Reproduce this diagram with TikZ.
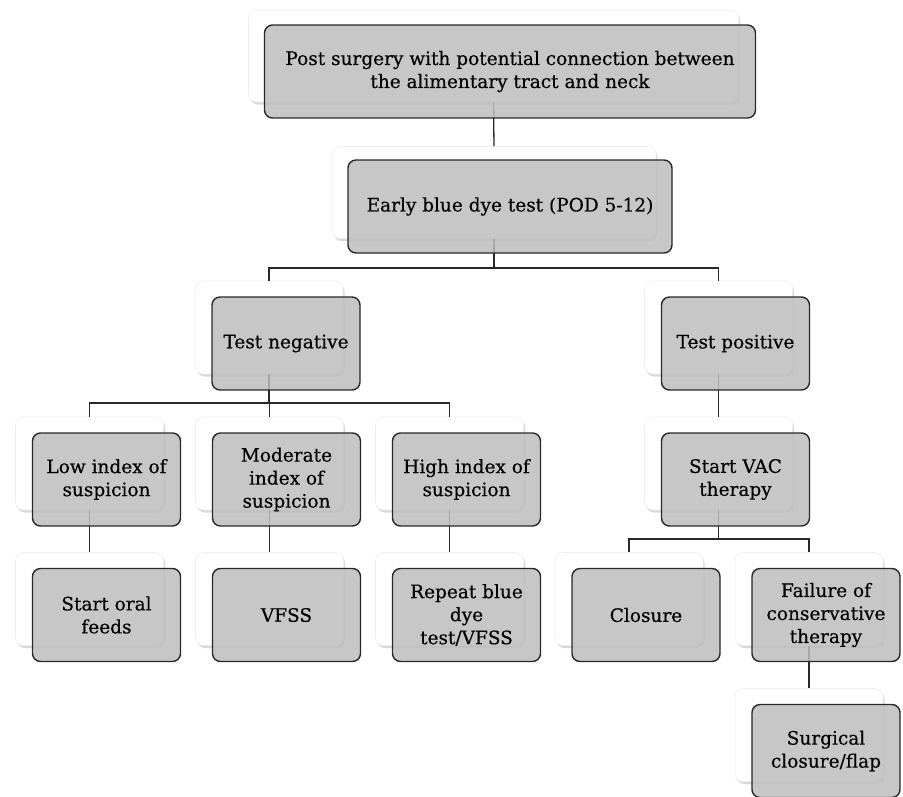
\documentclass[tikz,border=0pt]{standalone}
\usepackage{fontspec}
\setmainfont{DejaVu Serif}
\newfontfamily\boxfont{DejaVu Serif}[FakeBold=0.35]
\usetikzlibrary{shadows,calc}
\definecolor{boxgray}{RGB}{190,190,190}
\definecolor{edgecol}{RGB}{40,40,40}
\definecolor{backedge}{RGB}{238,238,238}
\tikzset{
  backbox/.style={draw=backedge, line width=0.6pt, fill=white, rounded corners=8pt,
    drop shadow={shadow xshift=1.5pt, shadow yshift=-2.5pt, opacity=0.3},
    minimum width=148pt, minimum height=93pt, inner sep=0pt},
  frontbox/.style={draw=edgecol, line width=1.4pt, fill=boxgray, fill opacity=0.85, text opacity=1,
    rounded corners=8pt, minimum width=148pt, minimum height=93pt, inner sep=3pt,
    align=center, font=\boxfont\fontsize{18.5}{23}\selectfont, text=black},
  conn/.style={draw=edgecol, line width=1.3pt},
}
\begin{document}
\begin{tikzpicture}[x=1pt,y=-1pt]
\clip (0,0) rectangle (903,796);
\fill[white] (0,0) rectangle (903,796);
% back boxes
\node[backbox, minimum width=490pt, minimum height=92pt] (wA) at (493.5,56) {};
\node[backbox, minimum width=324pt, minimum height=92pt] (wB) at (494,192.5) {};
\node[backbox] (wTN) at (269,327.5) {};
\node[backbox] (wTP) at (718.5,327.5) {};
\node[backbox] (wLow) at (89.5,463.5) {};
\node[backbox] (wMod) at (269.5,463.5) {};
\node[backbox] (wHigh) at (449.5,463.5) {};
\node[backbox] (wVAC) at (718.5,463.5) {};
\node[backbox] (wOral) at (89.5,599) {};
\node[backbox] (wVFSS) at (269.5,599) {};
\node[backbox] (wRep) at (449.5,599) {};
\node[backbox] (wClo) at (629,599) {};
\node[backbox] (wFail) at (809,599) {};
\node[backbox] (wSurg) at (809,735) {};
% connectors
\draw[conn] (wA.south) -- (wB.north);
\draw[conn] (wB.south) -- (wB.south |- 0,268);
\draw[conn] (wTN.north) -- (wTN.north |- 0,268) -| (wTP.north);
\draw[conn] (wTN.south) -- (wTN.south |- 0,403);
\draw[conn] (wLow.north) -- (wLow.north |- 0,403) -| (wHigh.north);
\draw[conn] (wMod.north) -- (wMod.north |- 0,403);
\draw[conn] (wLow.south) -- (wOral.north);
\draw[conn] (wMod.south) -- (wVFSS.north);
\draw[conn] (wHigh.south) -- (wRep.north);
\draw[conn] (wTP.south) -- (wVAC.north);
\draw[conn] (wVAC.south) -- (wVAC.south |- 0,539);
\draw[conn] (wClo.north) -- (wClo.north |- 0,539) -| (wFail.north);
\draw[conn] (wFail.south) -- (wSurg.north);
% front boxes
\node[frontbox, minimum width=491pt, minimum height=93pt] (A) at ($(wA)+(16.5,15.5)$) {Post surgery with potential connection between\\the alimentary tract and neck};
\node[frontbox, minimum width=324pt, minimum height=93pt] (B) at ($(wB)+(16,14)$) {Early blue dye test (POD 5-12)};
\node[frontbox] (TN) at ($(wTN)+(17,16)$) {Test negative};
\node[frontbox] (TP) at ($(wTP)+(17,16)$) {Test positive};
\node[frontbox] (Low) at ($(wLow)+(17,16)$) {Low index of\\suspicion};
\node[frontbox] (Mod) at ($(wMod)+(17,16)$) {Moderate\\index of\\suspicion};
\node[frontbox] (High) at ($(wHigh)+(17,16)$) {High index of\\suspicion};
\node[frontbox] (VAC) at ($(wVAC)+(17,16)$) {Start VAC\\therapy};
\node[frontbox] (Oral) at ($(wOral)+(17,16)$) {Start oral\\feeds};
\node[frontbox] (VFSS) at ($(wVFSS)+(17,16)$) {VFSS};
\node[frontbox] (Rep) at ($(wRep)+(17,16)$) {Repeat blue\\dye\\test/VFSS};
\node[frontbox] (Clo) at ($(wClo)+(17,16)$) {Closure};
\node[frontbox] (Fail) at ($(wFail)+(17,16)$) {Failure of\\conservative\\therapy};
\node[frontbox] (Surg) at ($(wSurg)+(17,16)$) {Surgical\\closure/flap};
\end{tikzpicture}
\end{document}
